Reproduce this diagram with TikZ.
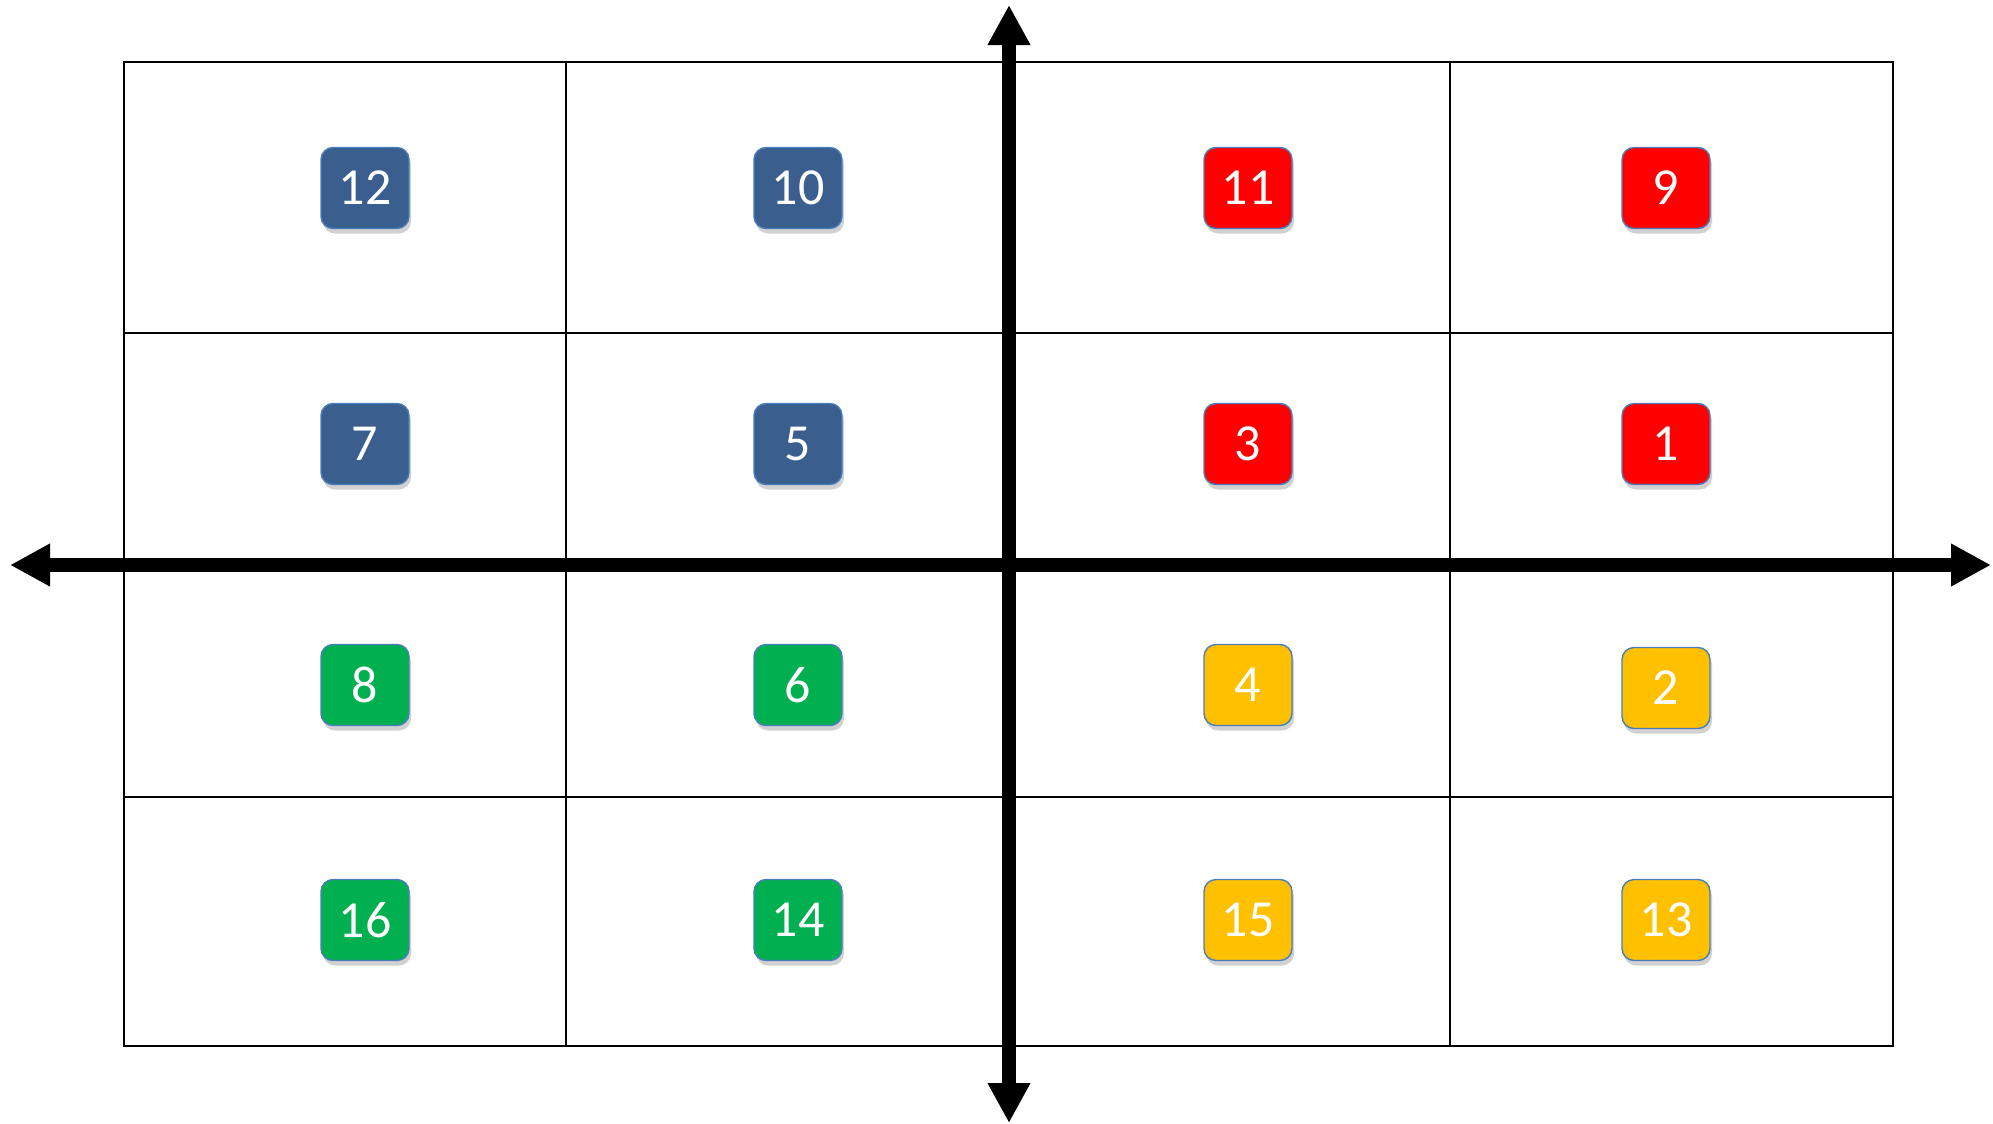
\documentclass[tikz,border=0pt]{standalone}
\usepackage{fontspec}
\setmainfont{Carlito}
\usetikzlibrary{arrows.meta,shadows}
\definecolor{qblue}{HTML}{3A5F8F}
\definecolor{qred}{HTML}{FF0000}
\definecolor{qgreen}{HTML}{00B050}
\definecolor{qgold}{HTML}{FFC000}
\definecolor{qborder}{HTML}{4A7EBB}
\begin{document}
\begin{tikzpicture}[x=0.5pt,y=-0.5pt,
  cell/.style={draw=black,line width=1pt},
  axisline/.style={line width=7pt,{Triangle[length=20pt,width=20pt]}-{Triangle[length=20pt,width=20pt]}},
  tile/.style={fill=#1,draw=qborder,line width=0.7pt,rounded corners=6pt,
    minimum width=44pt,minimum height=40.5pt,inner sep=0pt,text=white,
    font=\fontsize{26}{26}\selectfont,
    drop shadow={shadow xshift=1pt,shadow yshift=-2.5pt,opacity=0.3,fill=black!60}}]
\useasboundingbox (0,0) rectangle (1993,1124);
% grid
\draw[cell] (124,62) rectangle (1893,1046);
\draw[cell] (566,62) -- (566,1046);
\draw[cell] (1450,62) -- (1450,1046);
\draw[cell] (124,333) -- (1893,333);
\draw[cell] (124,797) -- (1893,797);
\draw[cell] (124,564) -- (1893,564);
\draw[cell] (1008,62) -- (1008,1046);
% axes
\coordinate (xl) at (10,565);
\coordinate (xr) at (1991,565);
\coordinate (yt) at (1009,5);
\coordinate (yb) at (1009,1123);
\draw[axisline] (xl) -- (xr);
\draw[axisline] (yt) -- (yb);
% tiles
\node[tile=qblue] (b12) at (365,188) {12};
\node[tile=qblue] (b10) at (798,188) {10};
\node[tile=qred] (b11) at (1248,188) {11};
\node[tile=qred] (b9) at (1666,188) {9};
\node[tile=qblue] (b7) at (365,444) {7};
\node[tile=qblue] (b5) at (798,444) {5};
\node[tile=qred] (b3) at (1248,444) {3};
\node[tile=qred] (b1) at (1666,444) {1};
\node[tile=qgreen] (b8) at (365,685) {8};
\node[tile=qgreen] (b6) at (798,685) {6};
\node[tile=qgold] (b4) at (1248,685) {4};
\node[tile=qgold] (b2) at (1666,688) {2};
\node[tile=qgreen] (b16) at (365,920) {16};
\node[tile=qgreen] (b14) at (798,920) {14};
\node[tile=qgold] (b15) at (1248,920) {15};
\node[tile=qgold] (b13) at (1666,920) {13};
\end{tikzpicture}
\end{document}
